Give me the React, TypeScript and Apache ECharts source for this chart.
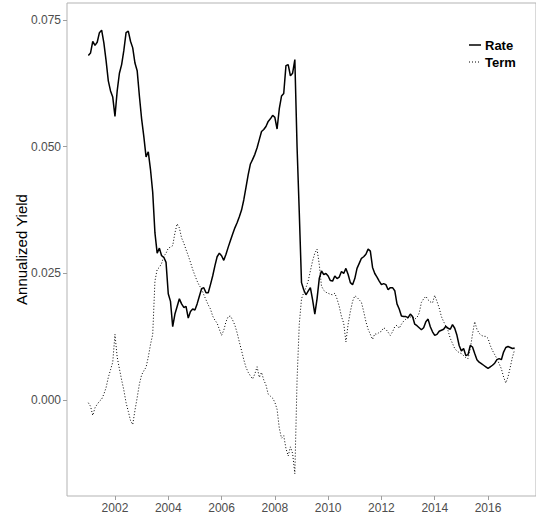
import React, { useEffect, useRef } from "react";
import * as echarts from "echarts";

// Monthly observations, January 2001 .. January 2017
const START_YEAR = 2001;
const rate: number[] = [
  // 2001
  0.0680, 0.0685, 0.0708, 0.0700, 0.0706, 0.0725, 0.0730, 0.0705, 0.0670, 0.0630, 0.0610, 0.0598,
  // 2002
  0.0560, 0.0610, 0.0645, 0.0662, 0.0690, 0.0725, 0.0728, 0.0708, 0.0695, 0.0665, 0.0650, 0.0600,
  // 2003
  0.0555, 0.0520, 0.0480, 0.0490, 0.0455, 0.0410, 0.0330, 0.0290, 0.0300, 0.0285, 0.0282, 0.0272,
  // 2004
  0.0210, 0.0195, 0.0145, 0.0170, 0.0185, 0.0200, 0.0190, 0.0183, 0.0185, 0.0162, 0.0175, 0.0180,
  // 2005
  0.0178, 0.0190, 0.0205, 0.0220, 0.0222, 0.0212, 0.0212, 0.0228, 0.0245, 0.0265, 0.0283, 0.0290,
  // 2006
  0.0285, 0.0276, 0.0288, 0.0302, 0.0315, 0.0328, 0.0340, 0.0350, 0.0362, 0.0375, 0.0395, 0.0420,
  // 2007
  0.0445, 0.0466, 0.0475, 0.0485, 0.0498, 0.0514, 0.0530, 0.0534, 0.0540, 0.0550, 0.0555, 0.0562,
  // 2008
  0.0558, 0.0535, 0.0575, 0.0600, 0.0605, 0.0660, 0.0662, 0.0640, 0.0645, 0.0672, 0.0500, 0.0370,
  // 2009
  0.0232, 0.0218, 0.0208, 0.0215, 0.0222, 0.0198, 0.0170, 0.0200, 0.0240, 0.0255, 0.0248, 0.0250,
  // 2010
  0.0245, 0.0236, 0.0235, 0.0245, 0.0240, 0.0243, 0.0254, 0.0250, 0.0260, 0.0248, 0.0232, 0.0228,
  // 2011
  0.0240, 0.0260, 0.0270, 0.0280, 0.0283, 0.0288, 0.0298, 0.0294, 0.0262, 0.0250, 0.0243, 0.0235,
  // 2012
  0.0228, 0.0230, 0.0228, 0.0218, 0.0222, 0.0222, 0.0216, 0.0190, 0.0180, 0.0166, 0.0165, 0.0165,
  // 2013
  0.0163, 0.0170, 0.0165, 0.0150, 0.0147, 0.0143, 0.0139, 0.0143, 0.0155, 0.0160, 0.0145, 0.0135,
  // 2014
  0.0128, 0.0130, 0.0136, 0.0138, 0.0140, 0.0146, 0.0142, 0.0140, 0.0149, 0.0142, 0.0128, 0.0108,
  // 2015
  0.0097, 0.0102, 0.0088, 0.0090, 0.0108, 0.0105, 0.0092, 0.0080, 0.0075, 0.0072, 0.0069, 0.0066,
  // 2016
  0.0063, 0.0066, 0.0069, 0.0073, 0.0080, 0.0082, 0.0080, 0.0095, 0.0104, 0.0106, 0.0104, 0.0102,
  // 2017
  0.0103,
];

const term: number[] = [
  // 2001
  -0.0005, -0.0012, -0.0030, -0.0015, -0.0008, -0.0002, 0.0002, 0.0012, 0.0025, 0.0045, 0.0060, 0.0075,
  // 2002
  0.0130, 0.0085, 0.0062, 0.0040, 0.0020, -0.0005, -0.0022, -0.0040, -0.0048, -0.0020, 0.0005, 0.0032,
  // 2003
  0.0050, 0.0058, 0.0065, 0.0085, 0.0110, 0.0130, 0.0235, 0.0258, 0.0262, 0.0270, 0.0284, 0.0290,
  // 2004
  0.0300, 0.0302, 0.0305, 0.0330, 0.0348, 0.0340, 0.0320, 0.0310, 0.0297, 0.0285, 0.0272, 0.0258,
  // 2005
  0.0246, 0.0235, 0.0226, 0.0220, 0.0208, 0.0198, 0.0188, 0.0180, 0.0166, 0.0158, 0.0152, 0.0140,
  // 2006
  0.0128, 0.0138, 0.0155, 0.0165, 0.0166, 0.0158, 0.0148, 0.0133, 0.0115, 0.0098, 0.0080, 0.0065,
  // 2007
  0.0055, 0.0048, 0.0042, 0.0052, 0.0066, 0.0045, 0.0055, 0.0040, 0.0030, 0.0012, 0.0008, 0.0004,
  // 2008
  -0.0004, -0.0018, -0.0055, -0.0075, -0.0070, -0.0095, -0.0110, -0.0092, -0.0105, -0.0145, 0.0040, 0.0150,
  // 2009
  0.0200, 0.0212, 0.0222, 0.0235, 0.0255, 0.0275, 0.0290, 0.0298, 0.0268, 0.0225, 0.0217, 0.0213,
  // 2010
  0.0211, 0.0209, 0.0208, 0.0211, 0.0200, 0.0185, 0.0165, 0.0152, 0.0115, 0.0150, 0.0175, 0.0195,
  // 2011
  0.0206, 0.0203, 0.0198, 0.0193, 0.0175, 0.0155, 0.0140, 0.0130, 0.0120, 0.0131, 0.0130, 0.0134,
  // 2012
  0.0136, 0.0143, 0.0140, 0.0134, 0.0128, 0.0135, 0.0145, 0.0148, 0.0142, 0.0150, 0.0156, 0.0160,
  // 2013
  0.0162, 0.0164, 0.0165, 0.0160, 0.0163, 0.0172, 0.0193, 0.0200, 0.0205, 0.0198, 0.0194, 0.0192,
  // 2014
  0.0207, 0.0195, 0.0182, 0.0165, 0.0155, 0.0146, 0.0137, 0.0122, 0.0112, 0.0102, 0.0097, 0.0094,
  // 2015
  0.0092, 0.0088, 0.0084, 0.0082, 0.0102, 0.0130, 0.0155, 0.0140, 0.0132, 0.0128, 0.0126, 0.0126,
  // 2016
  0.0122, 0.0108, 0.0098, 0.0090, 0.0082, 0.0072, 0.0062, 0.0046, 0.0034, 0.0046, 0.0065, 0.0085,
  // 2017
  0.0100,
];

const xTicks = [2002, 2004, 2006, 2008, 2010, 2012, 2014, 2016];
const yTicks = [0.0, 0.025, 0.05, 0.075];
const seriesNames = ["Rate", "Term"];
const yTitle = "Annualized Yield";

const FONT = "'Liberation Sans', Arial, Helvetica, sans-serif";

export default function App() {
  const ref = useRef<HTMLDivElement>(null);
  useEffect(() => {
    document.body.style.margin = "0";
    if (!ref.current) return;
    const chart = echarts.init(ref.current, undefined, { renderer: "svg" });
    const toPairs = (vals: number[]) =>
      vals.map((v, i) => [START_YEAR + i / 12, v]);

    chart.setOption({
      animation: false,
      backgroundColor: "#ffffff",
      textStyle: { fontFamily: FONT },
      grid: {
        left: 67,
        top: 3,
        width: 472,
        height: 493,
        show: true,
        borderColor: "#b3b3b3",
        borderWidth: 1,
        backgroundColor: "transparent",
        containLabel: false,
      },
      xAxis: {
        type: "value",
        min: 2000.2,
        max: 2017.8,
        splitLine: { show: false },
        axisLine: { show: false, onZero: false },
        axisTick: {
          show: true,
          length: 4,
          lineStyle: { color: "#9e9e9e" },
          customValues: xTicks,
        },
        axisLabel: {
          customValues: xTicks,
          margin: 6,
          color: "#4d4d4d",
          fontSize: 12,
          fontFamily: FONT,
          formatter: (v: number) => String(Math.round(v)),
        },
      },
      yAxis: {
        type: "value",
        min: -0.01889,
        max: 0.07835,
        splitLine: { show: false },
        axisLine: { show: false, onZero: false },
        axisTick: {
          show: true,
          length: 4,
          lineStyle: { color: "#9e9e9e" },
          customValues: yTicks,
        },
        axisLabel: {
          customValues: yTicks,
          margin: 6,
          color: "#4d4d4d",
          fontSize: 12,
          fontFamily: FONT,
          formatter: (v: number) => v.toFixed(3),
        },
        name: yTitle,
        nameLocation: "middle",
        nameGap: 38,
        nameMoveOverlap: false,
        nameRotate: 90,
        nameTextStyle: { color: "#000000", fontSize: 15, fontFamily: FONT },
      },
      series: [
        {
          name: seriesNames[0],
          type: "line",
          data: toPairs(rate),
          showSymbol: false,
          symbol: "none",
          lineStyle: { color: "#000000", width: 1.5 },
          clip: true,
        },
        {
          name: seriesNames[1],
          type: "line",
          data: toPairs(term),
          showSymbol: false,
          symbol: "none",
          lineStyle: { color: "#000000", width: 1, type: [1, 2] },
          clip: true,
        },
      ],
      graphic: [
        {
          type: "line",
          shape: { x1: 469, y1: 45, x2: 481, y2: 45 },
          style: { stroke: "#000000", lineWidth: 1.5 },
        },
        {
          type: "text",
          x: 485,
          y: 45,
          style: {
            text: seriesNames[0],
            fill: "#000000",
            font: `bold 13px ${FONT}`,
            textVerticalAlign: "middle",
            verticalAlign: "middle",
          },
        },
        {
          type: "line",
          shape: { x1: 469, y1: 62, x2: 481, y2: 62 },
          style: { stroke: "#000000", lineWidth: 1, lineDash: [1, 2] },
        },
        {
          type: "text",
          x: 485,
          y: 62,
          style: {
            text: seriesNames[1],
            fill: "#000000",
            font: `bold 13px ${FONT}`,
            textVerticalAlign: "middle",
            verticalAlign: "middle",
          },
        },
      ],
    });
    return () => chart.dispose();
  }, []);
  return <div ref={ref} style={{ width: 536, height: 519 }} />;
}
